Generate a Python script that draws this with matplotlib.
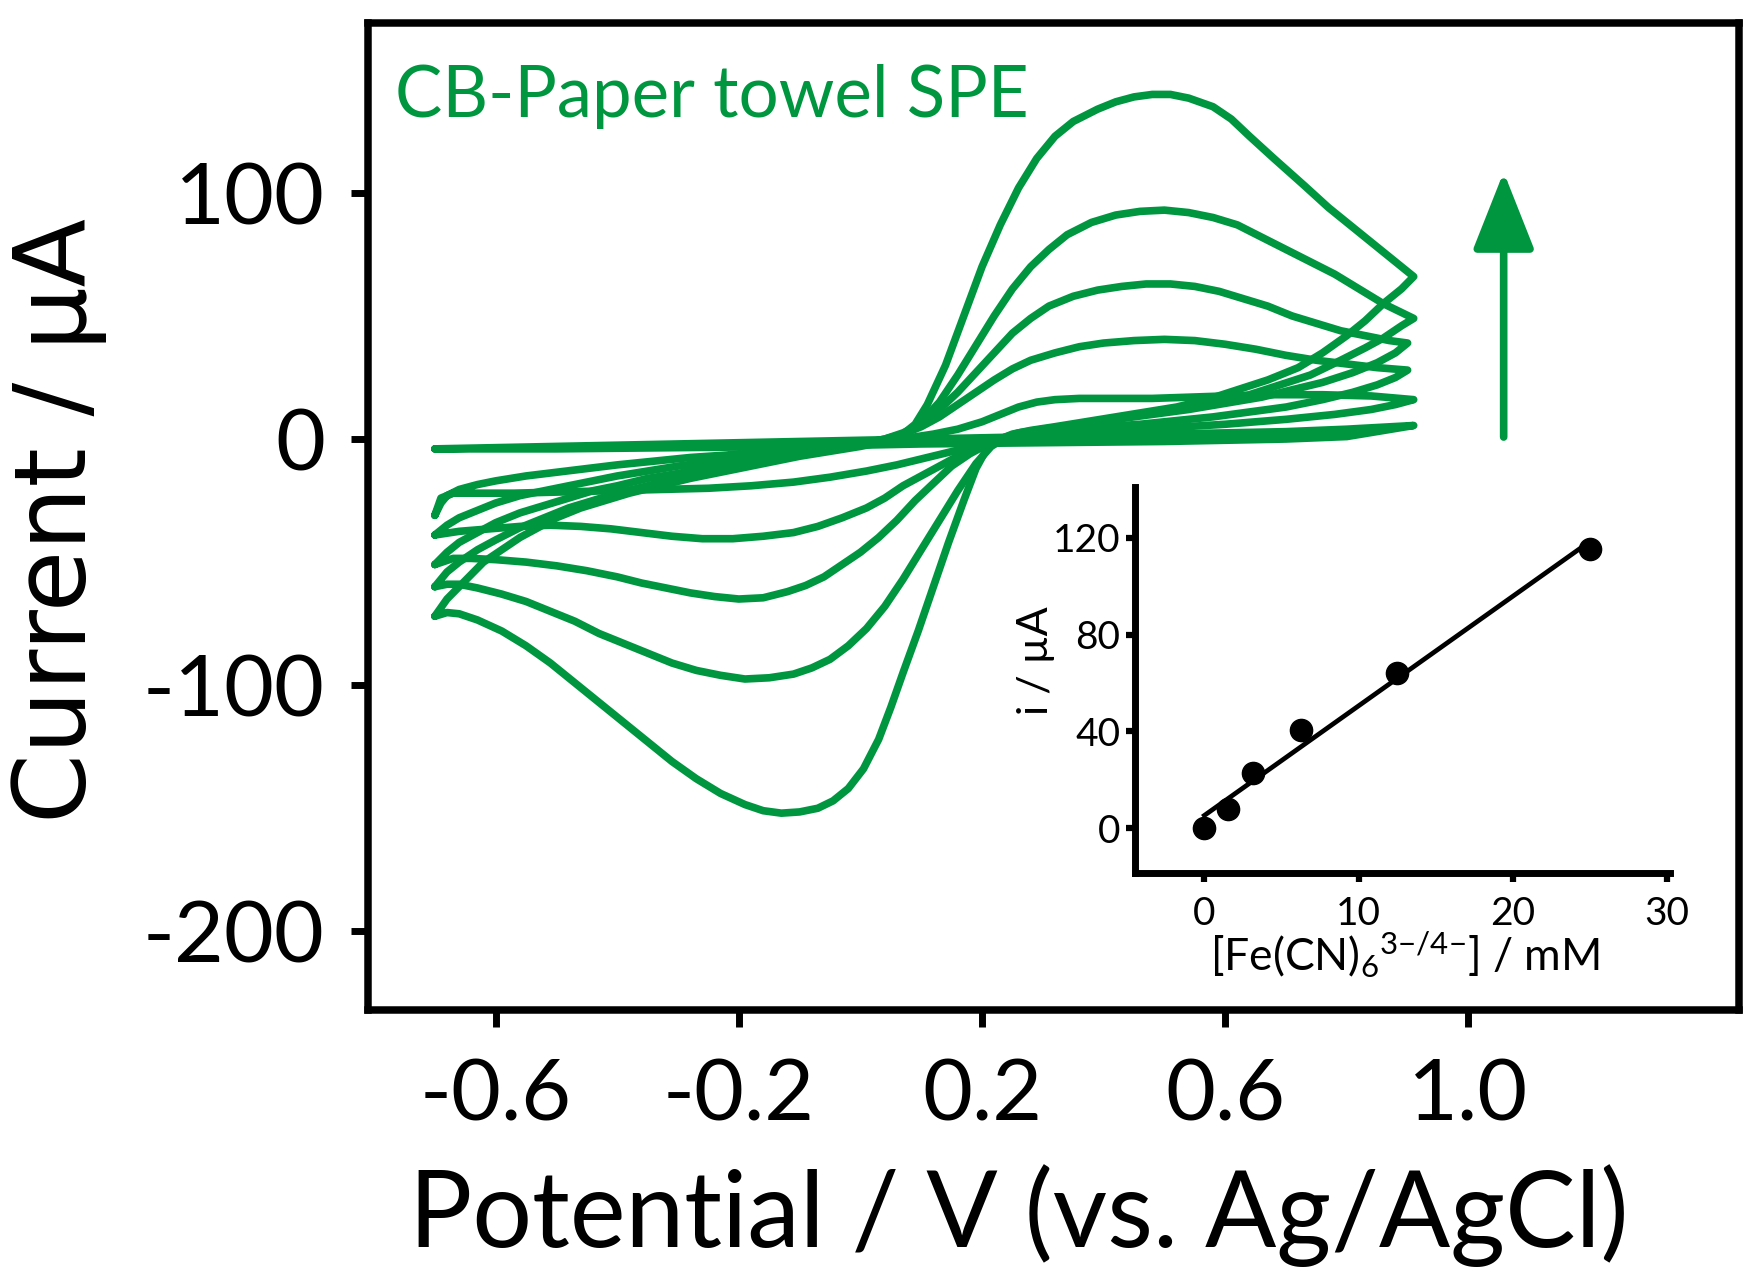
import numpy as np
import matplotlib
matplotlib.use("Agg")
import matplotlib.pyplot as plt

plt.rcParams['font.family'] = ['Lato', 'DejaVu Sans']
plt.rcParams['axes.unicode_minus'] = False
plt.rcParams['mathtext.fontset'] = 'custom'
plt.rcParams['mathtext.rm'] = 'Lato'
plt.rcParams['mathtext.it'] = 'Lato:italic'
plt.rcParams['mathtext.bf'] = 'Lato:bold'

GREEN = '#009640'

# cyclic voltammograms, [Fe(CN)6]3-/4- concentrations in mM
conc_mM = [0, 1.5625, 3.125, 6.25, 12.5, 25]

# forward (anodic) scan then reverse (cathodic) scan, potential in V, current in uA
E_0 = [-0.70, -0.50, -0.30, -0.10, 0.10, 0.30, 0.50, 0.70, 0.80, 0.91,
       0.80, 0.70, 0.50, 0.30, 0.10, -0.10, -0.30, -0.50, -0.70]
I_0 = [-4, -3, -2, -1, 0, 1, 2, 3, 4, 5.5,
       1, 0, -1, -1.5, -2, -3, -3.5, -4, -4]

E_1 = [-0.70, -0.69, -0.68, -0.66, -0.63, -0.60, -0.55, -0.50, -0.45, -0.40, -0.34, -0.28,
       -0.22, -0.16, -0.10, -0.04, 0.02, 0.08, 0.12, 0.16, 0.20, 0.23, 0.26, 0.29, 0.32,
       0.36, 0.42, 0.48, 0.54, 0.60, 0.68, 0.76, 0.84, 0.91,
       0.88, 0.84, 0.78, 0.70, 0.60, 0.50, 0.40, 0.32, 0.26, 0.21, 0.16, 0.11, 0.06,
       0.01, -0.05, -0.11, -0.18, -0.25, -0.33, -0.41, -0.49, -0.57, -0.63, -0.67,
       -0.69, -0.70]
I_1 = [-31, -26, -23, -20.5, -18.5, -17, -15, -13.5, -12, -10.5, -9, -7.5,
       -6.5, -5, -4, -2.5, -1, 0.5, 2, 4, 7, 10, 13, 15, 16,
       16.5, 16.5, 16.5, 17, 17.5, 18, 18, 17.5, 16,
       14, 12, 10, 8, 6, 4.5, 3, 1.5, 0, -2, -4.5, -7.5, -10.5,
       -13, -15.5, -17.5, -19, -20, -20.5, -21, -21.5, -22, -22, -22,
       -24, -31]

E_2 = [-0.70, -0.68, -0.66, -0.63, -0.60, -0.56, -0.52, -0.48, -0.44, -0.40, -0.35, -0.30,
       -0.24, -0.18, -0.12, -0.06, 0.00, 0.04, 0.07, 0.10, 0.13, 0.16, 0.19, 0.22, 0.25,
       0.28, 0.32, 0.36, 0.40, 0.45, 0.50, 0.55, 0.60, 0.65, 0.70, 0.75, 0.80, 0.85, 0.90,
       0.88, 0.85, 0.81, 0.76, 0.70, 0.64, 0.58, 0.52, 0.46, 0.40, 0.34, 0.29, 0.25,
       0.22, 0.19, 0.16, 0.13, 0.10, 0.07, 0.04, 0.01, -0.03, -0.07, -0.11, -0.16,
       -0.21, -0.26, -0.31, -0.36, -0.41, -0.46, -0.51, -0.56, -0.61, -0.66, -0.70]
I_2 = [-39, -35, -32, -29, -26, -23, -21, -19, -17, -15, -13, -11,
       -9, -7.5, -6, -4, -2, 0, 2, 5, 9, 14, 19, 24, 28.5,
       32, 35, 37.5, 39, 40, 40.5, 40, 38.5, 36.5, 34, 32, 30.5, 29, 28,
       25, 22, 19, 16, 13, 11, 9, 7.5, 6, 5, 3.5, 2, 0.5,
       -1.5, -4, -7, -11, -15, -19, -24, -28, -32, -35.5, -38, -39.5,
       -40.5, -40.5, -39.5, -38, -36.5, -35.5, -35, -35.5, -36.5, -37.5, -39]

E_3 = [-0.70, -0.68, -0.66, -0.63, -0.60, -0.56, -0.52, -0.48, -0.44, -0.40, -0.35, -0.30,
       -0.24, -0.18, -0.12, -0.06, 0.00, 0.04, 0.07, 0.10, 0.13, 0.16, 0.19, 0.22, 0.25,
       0.28, 0.31, 0.35, 0.39, 0.43, 0.47, 0.51, 0.55, 0.59, 0.63, 0.67, 0.71, 0.75, 0.79,
       0.83, 0.87, 0.90,
       0.88, 0.85, 0.81, 0.76, 0.71, 0.66, 0.60, 0.54, 0.48, 0.42, 0.36, 0.30, 0.26,
       0.235, 0.21, 0.18, 0.15, 0.12, 0.09, 0.06, 0.03, 0.00, -0.03, -0.06, -0.09, -0.12,
       -0.16, -0.20, -0.24, -0.28, -0.32, -0.36, -0.40, -0.45, -0.50, -0.55, -0.60, -0.64,
       -0.67, -0.70]
I_3 = [-51, -46, -42, -38, -34, -30, -27, -24, -21, -19, -16, -14,
       -11, -9, -7, -4.5, -2, 0, 2.5, 6, 12, 19, 27, 35, 43,
       49, 54, 58, 60.5, 62, 63, 63, 62, 60, 57, 54, 50, 47, 44,
       42, 40, 39,
       35, 31, 27, 23, 20, 17, 14.5, 12, 10, 8, 6, 4, 2.5,
       0.5, -2, -6, -11, -18, -25, -33, -40, -46, -51, -56, -59.5, -62,
       -64.5, -65, -64, -62.5, -60.5, -58.5, -56, -53.5, -51.5, -50, -49, -48.5,
       -48.5, -51]

E_4 = [-0.70, -0.68, -0.66, -0.63, -0.60, -0.56, -0.52, -0.48, -0.44, -0.40, -0.35, -0.30,
       -0.24, -0.18, -0.12, -0.06, 0.00, 0.04, 0.07, 0.10, 0.13, 0.16, 0.19, 0.22, 0.25,
       0.28, 0.31, 0.34, 0.38, 0.42, 0.46, 0.50, 0.54, 0.58, 0.62, 0.66, 0.70, 0.74, 0.78,
       0.82, 0.86, 0.91,
       0.89, 0.86, 0.83, 0.79, 0.74, 0.69, 0.64, 0.59, 0.54, 0.49, 0.44, 0.39, 0.34,
       0.30, 0.26, 0.235, 0.215, 0.19, 0.16, 0.13, 0.10, 0.07, 0.04, 0.01, -0.02, -0.05,
       -0.08, -0.11, -0.15, -0.19, -0.23, -0.27, -0.31, -0.35, -0.39, -0.43, -0.47, -0.51,
       -0.55, -0.59, -0.63, -0.66, -0.68, -0.70]
I_4 = [-60, -54, -50, -45, -41, -36, -32, -28, -25, -22, -19, -16,
       -13, -10, -7.5, -5, -2.5, -0.5, 2, 7, 15, 26, 38, 50, 61,
       70, 77, 83, 88, 91, 92.5, 93, 92, 90, 87, 82, 77, 72, 67,
       61, 55, 49,
       46, 41, 37, 32, 26, 22, 18, 15, 13, 11, 9, 7, 5,
       3.5, 2, 0, -3, -10, -21, -33, -45, -57, -68, -77, -84, -89.5,
       -93, -95.5, -97, -97.5, -96, -94, -91, -87, -83, -79, -74, -70,
       -66, -63, -60.5, -59, -59, -60]

E_5 = [-0.70, -0.68, -0.66, -0.64, -0.62, -0.59, -0.56, -0.53, -0.50, -0.46, -0.42, -0.38,
       -0.33, -0.28, -0.22, -0.16, -0.10, -0.05, 0.00, 0.03, 0.05, 0.07, 0.09, 0.11, 0.14,
       0.17, 0.20, 0.23, 0.26, 0.29, 0.32, 0.35, 0.39, 0.42, 0.45, 0.48, 0.51, 0.54, 0.58,
       0.61, 0.64, 0.68, 0.73, 0.77, 0.82, 0.86, 0.91,
       0.89, 0.86, 0.83, 0.80, 0.76, 0.72, 0.67, 0.62, 0.57, 0.52, 0.47, 0.42, 0.37,
       0.32, 0.28, 0.25, 0.23, 0.21, 0.19, 0.17, 0.145, 0.12, 0.095, 0.07, 0.05, 0.03,
       0.005, -0.02, -0.045, -0.07, -0.10, -0.13, -0.16, -0.19, -0.23, -0.27, -0.31, -0.35,
       -0.39, -0.43, -0.47, -0.51, -0.55, -0.59, -0.63, -0.66, -0.68, -0.70]
I_5 = [-72, -65, -60, -55, -50, -45, -40, -36, -32, -28, -25, -22,
       -19, -16, -13, -10, -7, -5, -3, -1.5, 0, 2, 6, 14, 30,
       50, 70, 87, 102, 114, 123, 129, 134, 137, 139, 140, 140, 138.5, 135,
       130, 123, 114, 103, 94, 84, 76, 66,
       61, 55, 48, 42, 35, 29, 24, 20, 16, 13, 11, 9, 7,
       5, 3.5, 2, 0, -3, -12, -25, -42, -60, -78, -95, -109, -122,
       -134, -142, -147, -150, -151.5, -152, -151, -148.5, -144, -138, -131, -123,
       -115, -107, -99, -91, -84, -78, -73.5, -71, -70.5, -72]

cv_E = [E_0, E_1, E_2, E_3, E_4, E_5]
cv_I = [I_0, I_1, I_2, I_3, I_4, I_5]

# inset: anodic peak current vs concentration
ip_uA = [0, 8, 23, 40.5, 64, 115.5]

fig = plt.figure(figsize=(17.64, 12.81), dpi=100)
ax = fig.add_axes([0.2086, 0.2115, 0.7772, 0.7705])

for E, I in zip(cv_E, cv_I):
    ax.plot(E, I, color=GREEN, lw=5.5, solid_joinstyle='round', solid_capstyle='round')

ax.set_xlim(-0.81, 1.445)
ax.set_ylim(-232, 169)
ax.set_xticks([-0.6, -0.2, 0.2, 0.6, 1.0])
ax.set_xticklabels(['-0.6', '-0.2', '0.2', '0.6', '1.0'])
ax.set_yticks([-200, -100, 0, 100])
for s in ax.spines.values():
    s.set_linewidth(5.4)
ax.tick_params(direction='out', length=12, width=5, labelsize=62)
ax.tick_params(axis='x', pad=22)
ax.tick_params(axis='y', pad=19)

ax.set_xlabel('Potential / V (vs. Ag/AgCl)', fontsize=76, va='baseline')
ax.xaxis.set_label_coords(0.475, -0.240)
ax.set_ylabel('Current / µA', fontsize=72, family='DejaVu Sans', va='center', ha='center')
ax.yaxis.set_label_coords(-0.226, 0.4965)

ax.text(0.0197, 0.905, 'CB-Paper towel SPE', transform=ax.transAxes, color=GREEN,
        fontsize=51, va='baseline', ha='left')

# arrow showing increasing concentration
ax.annotate('', xy=(1.058, 108.5), xytext=(1.058, 0.8),
            arrowprops=dict(arrowstyle='-|>,head_length=2.4,head_width=0.95',
                            mutation_scale=20, lw=5.5, color=GREEN,
                            shrinkA=0, shrinkB=0))

# inset calibration plot
axin = fig.add_axes([0.6434, 0.3185, 0.3033, 0.3013])
axin.patch.set_alpha(0)
slope, icpt = np.polyfit(conc_mM, ip_uA, 1)
xfit = np.array([min(conc_mM), max(conc_mM)])
axin.plot(xfit, slope * xfit + icpt, color='black', lw=3.4)
axin.plot(conc_mM, ip_uA, 'o', color='black', ms=16)
axin.set_xlim(-4.5, 30.2)
axin.set_ylim(-18.5, 141)
axin.set_xticks([0, 10, 20, 30])
axin.set_yticks([0, 40, 80, 120])
axin.spines['top'].set_visible(False)
axin.spines['right'].set_visible(False)
for k in ('left', 'bottom'):
    axin.spines[k].set_linewidth(5)
axin.tick_params(direction='out', length=6.5, width=4.5, labelsize=28)
axin.tick_params(axis='x', pad=10)
axin.tick_params(axis='y', pad=4)
axin.set_xlabel(r'[Fe(CN)$_6{}^{3{-}/4{-}}$] / mM', fontsize=32, va='baseline')
axin.xaxis.set_label_coords(0.505, -0.251)
axin.set_ylabel('i / µA', fontsize=31, va='center', ha='center')
axin.yaxis.set_label_coords(-0.185, 0.549)

fig.savefig('out.png', dpi=100)
